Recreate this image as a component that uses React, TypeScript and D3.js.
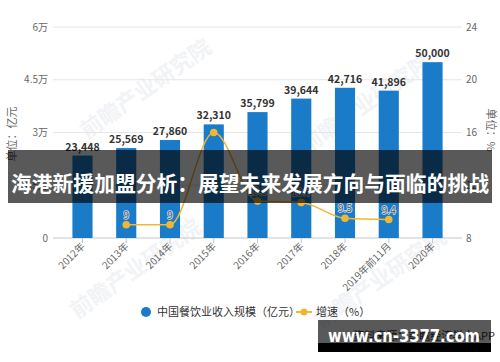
import React from 'react';
import * as d3 from 'd3';

const years = ['2012年', '2013年', '2014年', '2015年', '2016年', '2017年', '2018年', '2019年前11月', '2020年'];
const revenue = [23448, 25569, 27860, 32310, 35799, 39644, 42716, 41896, 50000];
const growth: (number | null)[] = [null, 9, 9, 16, 10.8, 10.7, 9.5, 9.4, null];
const leftTicks = [0, 15000, 30000, 45000, 60000];
const leftTickLabels = ['0', '1.5万', '3万', '4.5万', '6万'];
const rightTicks = [8, 12, 16, 20, 24];

const FONT = '"Noto Sans CJK SC", "Noto Sans", sans-serif';
const BAR = '#1a7bc9';
const LINE = '#f2b534';

const W = 500;
const H = 362;
const top = 27;
const bottom = 238;
const gridL = 53;
const gridR = 462;

export default function App() {
  const x = d3.scaleBand<string>().domain(years).range([60.6, 454.4]).paddingInner(0.54).paddingOuter(0.27);
  const yL = d3.scaleLinear().domain([0, 60000]).range([bottom, top]);
  const yR = d3.scaleLinear().domain([8, 24]).range([bottom, top]);
  const cx = (d: string) => (x(d) ?? 0) + x.bandwidth() / 2;

  const pts = years
    .map((yr, i) => ({ yr, v: growth[i] }))
    .filter(d => d.v !== null) as { yr: string; v: number }[];
  const line = d3.line<{ yr: string; v: number }>()
    .x(d => cx(d.yr))
    .y(d => yR(d.v))
    .curve(d3.curveMonotoneX);

  const fmt = d3.format(',');

  return (
    <div style={{ position: 'fixed', left: 0, top: 0 }}>
      <svg width={W} height={H} style={{ display: 'block', background: '#fff' }} fontFamily={FONT}>
        {/* faint watermarks */}
        {[[150, 95], [370, 110], [140, 275], [385, 285]].map(([wx, wy], i) => (
          <text key={i} x={wx} y={wy} transform={`rotate(-35 ${wx} ${wy})`} textAnchor="middle"
            fontSize={22} fontWeight="bold" fill="#f1f3f6">前瞻产业研究院</text>
        ))}

        {/* grid */}
        {leftTicks.map(t => (
          <line key={t} x1={gridL} x2={gridR} y1={yL(t)} y2={yL(t)} stroke={t === 0 ? '#c8c8c8' : '#e6e6e6'} />
        ))}
        {/* x ticks */}
        {years.map(yr => (
          <line key={yr} x1={cx(yr)} x2={cx(yr)} y1={bottom} y2={bottom + 5} stroke="#c8c8c8" />
        ))}

        {/* left axis labels */}
        {leftTicks.map((t, i) => (
          <text key={t} x={48} y={yL(t)} dy="0.35em" textAnchor="end" fontSize={10} fill="#666">
            {leftTickLabels[i]}
          </text>
        ))}
        {/* right axis labels */}
        {rightTicks.map(t => (
          <text key={t} x={466} y={yR(t)} dy="0.35em" fontSize={10} fill="#666">{t}</text>
        ))}
        <text transform="translate(16,134) rotate(-90)" textAnchor="middle" fontSize={11} fill="#666">单位：亿元</text>
        <text transform="translate(487,130) rotate(90)" textAnchor="middle" fontSize={11} fill="#666">单位：%</text>

        {/* bars */}
        {years.map((yr, i) => (
          <rect key={yr} x={x(yr)} y={yL(revenue[i])} width={x.bandwidth()} height={bottom - yL(revenue[i])} fill={BAR} />
        ))}
        {years.map((yr, i) => (
          <text key={yr} x={cx(yr)} y={yL(revenue[i]) - 5} textAnchor="middle" fontSize={10.5} fontWeight="bold" fill="#333">
            {fmt(revenue[i])}
          </text>
        ))}

        {/* growth line */}
        <path d={line(pts) ?? ''} fill="none" stroke={LINE} strokeWidth={1.5} />
        {pts.map(p => (
          <circle key={p.yr} cx={cx(p.yr)} cy={yR(p.v)} r={3.8} fill={LINE} />
        ))}
        {pts.filter(p => p.yr !== '2015年').map(p => (
          <text key={p.yr} x={cx(p.yr)} y={yR(p.v) - 6} textAnchor="middle" fontSize={10} fill="#555"
            stroke="#fff" strokeWidth={1.5} strokeOpacity={0.8} paintOrder="stroke">{p.v}</text>
        ))}

        {/* x labels */}
        {years.map(yr => (
          <text key={yr} transform={`translate(${cx(yr) + 3},${bottom + 9}) rotate(-45)`} textAnchor="end"
            fontSize={10} fill="#666">{yr}</text>
        ))}

        {/* legend */}
        <circle cx={146} cy={312} r={5} fill={BAR} />
        <text x={157} y={312} dy="0.35em" fontSize={11} fill="#333">中国餐饮业收入规模（亿元）</text>
        <line x1={296} x2={312} y1={312} y2={312} stroke={LINE} strokeWidth={2} />
        <circle cx={304} cy={312} r={3.5} fill={LINE} />
        <text x={316} y={312} dy="0.35em" fontSize={11} fill="#333">增速（%）</text>

        {/* source, mostly hidden behind the site watermark */}
        <text x={495} y={340} textAnchor="end" fontSize={11} fill="#333">资料来源：前瞻经济学人APP</text>

        {/* overlay banner */}
        <rect x={8} y={150} width={484} height={53} fill="rgba(0,0,0,0.65)" />
        <text x={250} y={184} dy="0.35em" textAnchor="middle" fontSize={21} fontWeight="bold" fill="#fff"
          textLength={478} lengthAdjust="spacingAndGlyphs">海港新援加盟分析：展望未来发展方向与面临的挑战</text>

        {/* site watermark */}
        <rect x={318} y={320} width={173} height={23} fill="rgba(0,0,0,0.65)" />
        <rect x={318} y={343} width={173} height={9} fill="#000" />
        <text x={404} y={342} textAnchor="middle" fontSize={18} fontWeight="bold" fill="#fff"
          fontFamily='"DejaVu Sans", sans-serif' textLength={152} lengthAdjust="spacingAndGlyphs">www.cn-3377.com</text>
      </svg>
    </div>
  );
}
